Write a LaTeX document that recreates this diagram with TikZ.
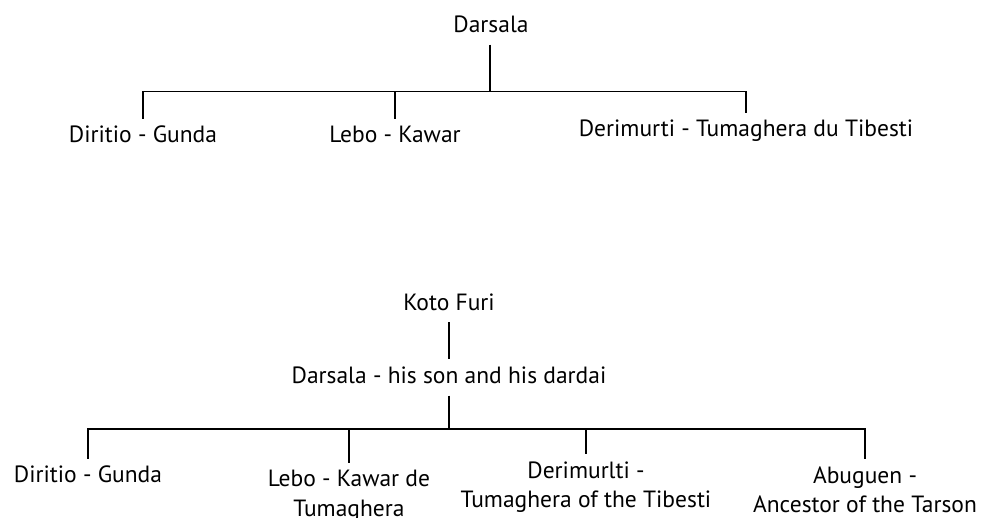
\documentclass[tikz,border=0pt]{standalone}
\usepackage{fontspec}
\setmainfont{PT Sans}
\tikzset{
  person/.style={font=\fontsize{23.5}{29.5}\selectfont, inner xsep=0pt, inner ysep=7pt,
    anchor=base, align=center},
  person1/.style={person, text height=17pt, text depth=5pt},
  link/.style={line width=1.8pt}
}

\begin{document}
\begin{tikzpicture}[x=1pt, y=-1pt]
  \useasboundingbox (0,0) rectangle (983,517);

  % first version of the line
  \node[person1] (darsala) at (491,32.3) {Darsala};
  \node[person1] (dg1) at (143,142.7) {Diritio - Gunda};
  \node[person1] (dg2) at (395,142.7) {Lebo - Kawar};
  \node[person1] (dg3) at (746,136.7) {Derimurti - Tumaghera du Tibesti};
  \coordinate (top) at (490,91.5);

  \draw[link] (darsala.south -| top) -- (top);
  \draw[link] (dg1.north) -- (dg1.north |- top) -- (dg3.north |- top) -- (dg3.north);
  \draw[link] (dg2.north |- top) -- (dg2.north);

  % second version, with Koto Furi
  % (two-line names sit on the baseline of their last line)
  \node[person1] (koto) at (449,310) {Koto Furi};
  \node[person1] (son) at (449,383.3) {Darsala - his son and his dardai};
  \node[person1] (c1) at (88,482.7) {Diritio - Gunda};
  \node[person] (c2) at (349,516.2) {Lebo - Kawar de\\Tumaghera};
  \node[person] (c3) at (586,507.8) {Derimurlti -\\Tumaghera of the Tibesti};
  \node[person] (c4) at (865,512.8) {Abuguen -\\Ancestor of the Tarson};
  \coordinate (bot) at (449,429.3);

  \draw[link] (koto.south) -- (son.north);
  \draw[link] (son.south) -- (bot);
  \draw[link] (c1.north) -- (c1.north |- bot) -- (c4.north |- bot) -- (c4.north);
  \foreach \n in {c2,c3}
    \draw[link] (\n.north |- bot) -- (\n.north);
\end{tikzpicture}
\end{document}
